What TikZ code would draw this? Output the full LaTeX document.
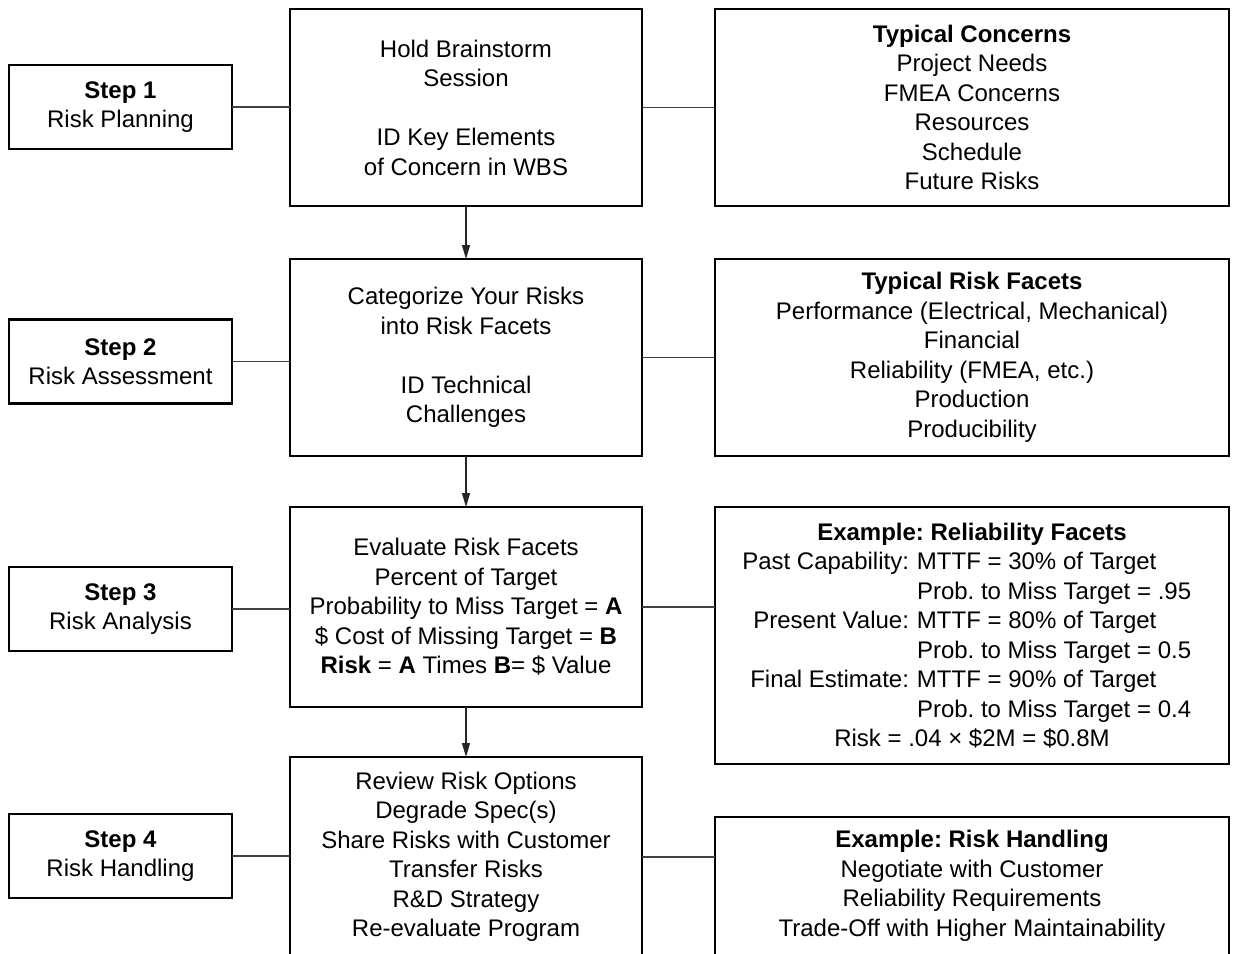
\documentclass[tikz,border=0pt]{standalone}
\usepackage{fontspec}
\setmainfont{Liberation Sans}
\usetikzlibrary{arrows.meta,calc}
\frenchspacing
% one row of the two-column reliability table
\newcommand{\facetrow}[2]{\makebox[168pt][r]{#1}\hspace{8pt}\makebox[286pt][l]{#2}}
\begin{document}
\begin{tikzpicture}[x=1pt,y=-1pt,
  every node/.style={font=\fontsize{24}{29.5}\selectfont, inner sep=0pt, outer sep=0pt},
  box/.style={draw=black, line width=2.2pt, rectangle, align=center},
  stepbox/.style={box, minimum width=223pt, minimum height=84pt},
  midbox/.style={box, minimum width=352pt},
  sidebox/.style={box, minimum width=514pt},
  link/.style={draw=black!75, line width=1.3pt},
  flow/.style={draw=black!85, line width=1.3pt, -{Triangle[length=14pt,width=8pt]}}
]
\useasboundingbox (0,0) rectangle (1236,953);
\clip (0,0) rectangle (1236,953);

% left column: the four steps
\node[stepbox] (s1) at (120.5,107)   {\textbf{Step 1}\\Risk Planning};
\node[stepbox] (s2) at (120.5,361.5) {\textbf{Step 2}\\Risk Assessment};
\node[stepbox] (s3) at (120.5,609)   {\textbf{Step 3}\\Risk Analysis};
\node[stepbox] (s4) at (120.5,856)   {\textbf{Step 4}\\Risk Handling};

% middle column: the activities of each step
\node[midbox, minimum height=197pt] (c1) at (466,107.5)
  {Hold Brainstorm\\Session\\[29.5pt]ID Key Elements\\of Concern in WBS};
\node[midbox, minimum height=197pt] (c2) at (466,357.5)
  {Categorize Your Risks\\into Risk Facets\\[29.5pt]ID Technical\\Challenges};
\node[midbox, minimum height=200pt] (c3) at (466,607)
  {Evaluate Risk Facets\\Percent of Target\\Probability to Miss Target = \textbf{A}\\
   \$ Cost of Missing Target = \textbf{B}\\\textbf{Risk} = \textbf{A} Times \textbf{B}= \$ Value};
\node[midbox, minimum height=200pt] (c4) at (466,857)
  {Review Risk Options\\Degrade Spec(s)\\Share Risks with Customer\\Transfer Risks\\R\&D Strategy\\Re-evaluate Program};

% right column: typical content and examples
\node[sidebox, minimum height=197pt] (r1) at (972,107.5)
  {\textbf{Typical Concerns}\\Project Needs\\FMEA Concerns\\Resources\\Schedule\\Future Risks};
\node[sidebox, minimum height=197pt] (r2) at (972,357.5)
  {\textbf{Typical Risk Facets}\\Performance (Electrical, Mechanical)\\Financial\\Reliability (FMEA, etc.)\\Production\\Producibility};
\node[sidebox, minimum height=257pt] (r3) at (972,635.5)
  {\textbf{Example: Reliability Facets}\\
   \facetrow{Past Capability:}{MTTF = 30\% of Target}\\
   \facetrow{}{Prob. to Miss Target = .95}\\
   \facetrow{Present Value:}{MTTF = 80\% of Target}\\
   \facetrow{}{Prob. to Miss Target = 0.5}\\
   \facetrow{Final Estimate:}{MTTF = 90\% of Target}\\
   \facetrow{}{Prob. to Miss Target = 0.4}\\
   Risk = .04 × \$2M = \$0.8M};
\node[sidebox, minimum height=138pt] (r4) at (972,886)
  {\textbf{Example: Risk Handling}\\Negotiate with Customer\\Reliability Requirements\\Trade-Off with Higher Maintainability};

% step to activity links
\draw[link] (s1.east) -- (s1.east -| c1.west);
\draw[link] (s2.east) -- (s2.east -| c2.west);
\draw[link] (s3.east) -- (s3.east -| c3.west);
\draw[link] (s4.east) -- (s4.east -| c4.west);

% activity to detail links
\draw[link] (c1.east) -- (c1.east -| r1.west);
\draw[link] (c2.east) -- (c2.east -| r2.west);
\draw[link] (c3.east) -- (c3.east -| r3.west);
\draw[link] (c4.east) -- (c4.east -| r4.west);

% flow between activities
\draw[flow] (c1.south) -- (c2.north);
\draw[flow] (c2.south) -- (c3.north);
\draw[flow] (c3.south) -- (c4.north);
\end{tikzpicture}
\end{document}
